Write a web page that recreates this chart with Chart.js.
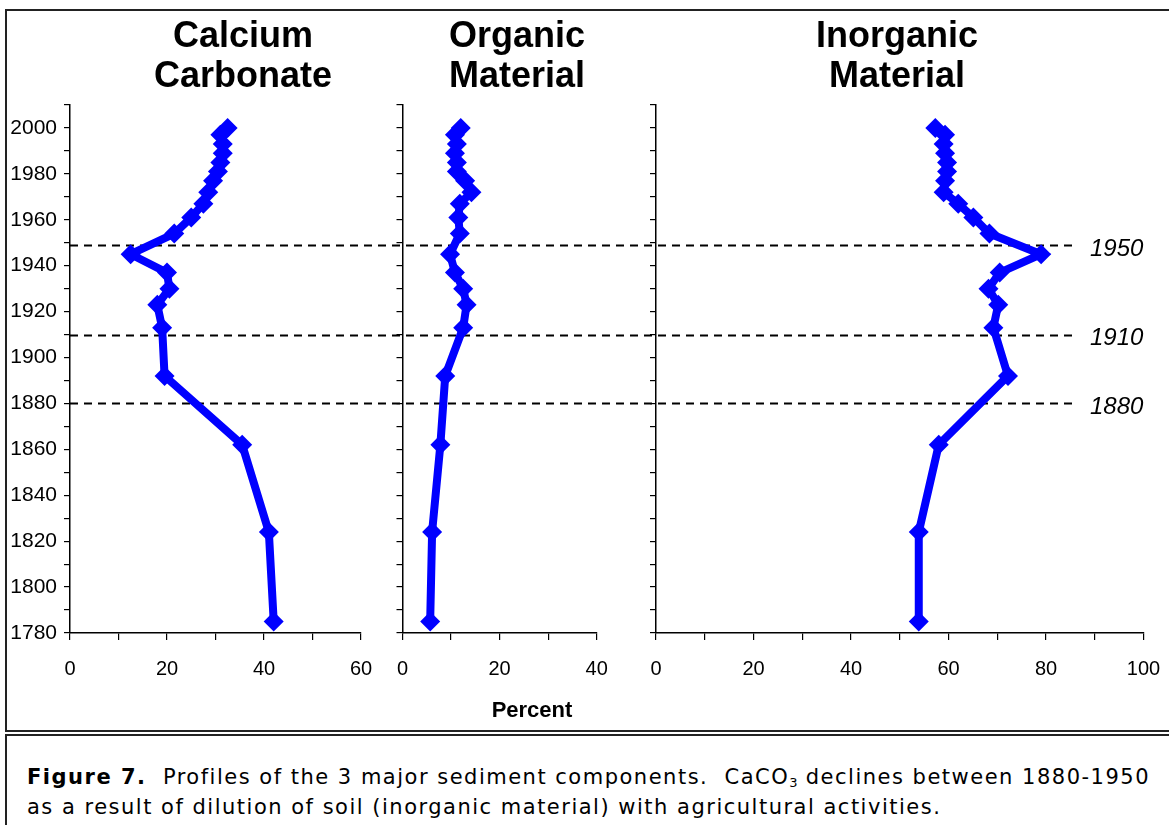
<!DOCTYPE html>
<html>
<head>
<meta charset="utf-8">
<script src="https://cdn.jsdelivr.net/npm/chart.js@4.4.1/dist/chart.umd.min.js"></script>
<style>
  html, body { margin:0; padding:0; background:#fff; }
  #wrap { position:relative; width:1169px; height:825px; overflow:hidden; background:#fff; }
  .frame { position:absolute; left:5px; top:9px; width:1180px; height:723px; border:2px solid #222; box-sizing:border-box; }
  .capbox { position:absolute; left:5px; top:734px; width:1180px; height:120px; border:2px solid #222; box-sizing:border-box; }
  canvas.cv { position:absolute; left:0; top:0; }
  .title { position:absolute; font-family:"Liberation Sans", Arial, sans-serif; font-weight:bold; font-size:36px; line-height:40px; text-align:center; color:#000; transform:translateX(-50%); white-space:nowrap; }
  .xlabel { position:absolute; font-family:"Liberation Sans", Arial, sans-serif; font-weight:bold; font-size:22px; color:#000; transform:translate(-50%,-50%); }
  .caption { position:absolute; left:27px; top:762px; font-family:"DejaVu Sans", sans-serif; font-size:21px; letter-spacing:1.5px; line-height:30px; color:#000; white-space:nowrap; }
  .caption sub { font-size:13px; vertical-align:-3px; line-height:0; letter-spacing:0; }
</style>
</head>
<body>
<div id="wrap">
  <div class="frame"></div>
  <div class="capbox"></div>
  <canvas id="c1" class="cv" width="1169" height="735"></canvas>
  <canvas id="c2" class="cv" width="1169" height="735"></canvas>
  <canvas id="c3" class="cv" width="1169" height="735"></canvas>
  <div class="title" style="left:243px; top:15px;">Calcium<br>Carbonate</div>
  <div class="title" style="left:517px; top:15px;">Organic<br>Material</div>
  <div class="title" style="left:897px; top:15px;">Inorganic<br>Material</div>
  <div class="xlabel" style="left:532px; top:710px;">Percent</div>
  <div class="caption"><b>Figure 7.</b>&nbsp; Profiles of the 3 major sediment components.&nbsp; CaCO<sub>3</sub> declines between 1880-1950<br>as a result of dilution of soil (inorganic material) with agricultural activities.</div>
</div>
<script>
// ---- Data ----
const years     = [2000, 1997, 1993, 1989, 1985, 1981, 1977, 1972, 1967, 1961, 1954, 1945, 1937, 1930, 1923, 1913, 1892, 1862, 1824, 1785];
const calcium   = [32.5, 31, 31.5, 31.5, 31, 30.5, 29.5, 28.5, 27.5, 25, 21.5, 12.5, 20, 20.5, 18, 19, 19.5, 35.5, 41, 42];
const organic   = [12, 10.8, 11.2, 10.8, 11.2, 11.2, 12.9, 14.2, 11.8, 11.5, 11.8, 9.8, 10.8, 12.5, 13.2, 12.5, 8.8, 7.8, 6.1, 5.7];
const inorganic = [57.3, 59.3, 59, 59.3, 59.7, 59.7, 59.3, 59, 62, 65.1, 68.4, 79, 70.5, 68.2, 70.2, 69.2, 72.2, 58, 53.9, 53.9];
const refYears  = [1949, 1910, 1880];
const refLabels = ['1950', '1910', '1880'];
const yMin = 1780, yMax = 2010;

const FONT = '"Liberation Sans", Arial, sans-serif';
const BLUE = '#0000FF';

const refLinesPlugin = {
  id: 'refLines',
  beforeDatasetsDraw(chart, args, opts) {
    if (!opts.draw) return;
    const ctx = chart.ctx, y = chart.scales.y;
    ctx.save();
    ctx.strokeStyle = '#000';
    ctx.lineWidth = 1.8;
    ctx.setLineDash([8, 6]);
    refYears.forEach(yr => {
      const py = Math.round(y.getPixelForValue(yr)) + 0.5;
      ctx.beginPath();
      ctx.moveTo(chart.chartArea.left, py);
      ctx.lineTo(opts.endX, py);
      ctx.stroke();
    });
    ctx.restore();
  }
};
const refLabelPlugin = {
  id: 'refLabels',
  afterDraw(chart, args, opts) {
    if (!opts.draw) return;
    const ctx = chart.ctx, y = chart.scales.y;
    ctx.save();
    ctx.fillStyle = '#000';
    ctx.font = 'italic 24px ' + FONT;
    ctx.textBaseline = 'middle';
    ctx.textAlign = 'left';
    refYears.forEach((yr, i) => {
      ctx.fillText(refLabels[i], opts.x, y.getPixelForValue(yr) + 4);
    });
    ctx.restore();
  }
};

function makeChart(id, values, xMax, areaLeft, areaRight, showY, extra) {
  const yWidth = showY ? 64 : 8;
  const pts = values.map((v, i) => ({ x: v, y: years[i] }));
  return new Chart(document.getElementById(id), {
    type: 'scatter',
    data: { datasets: [{
      data: pts,
      showLine: true,
      borderColor: BLUE,
      backgroundColor: BLUE,
      borderWidth: 8,
      pointStyle: 'rectRot',
      pointRadius: 10,
      pointBorderWidth: 0,
      pointBackgroundColor: BLUE,
      clip: false,
      tension: 0
    }]},
    options: {
      responsive: false,
      animation: false,
      events: [],
      layout: { padding: { left: areaLeft - yWidth, right: 1169 - areaRight, top: 105, bottom: 52 } },
      plugins: {
        legend: { display: false },
        tooltip: { enabled: false },
        refLines: extra.refLines || { draw: false },
        refLabels: extra.refLabels || { draw: false }
      },
      scales: {
        x: {
          type: 'linear', min: 0, max: xMax,
          afterFit: s => { s.height = 50; s.paddingLeft = 0; s.paddingRight = 0; },
          ticks: { stepSize: 10, autoSkip: false, maxRotation: 0, padding: 17, color: '#000',
                   font: { family: FONT, size: 20 },
                   callback: v => (v % 20 === 0 ? String(v) : '') },
          grid: { drawOnChartArea: false, drawTicks: true, tickLength: 7, color: '#000', lineWidth: 1.2 },
          border: { display: true, color: '#000', width: 1.5 }
        },
        y: {
          type: 'linear', min: yMin, max: yMax,
          afterFit: s => { s.width = yWidth; s.paddingTop = 0; s.paddingBottom = 0; },
          ticks: { stepSize: 10, autoSkip: false, padding: 7, color: '#000',
                   font: { family: FONT, size: 21 },
                   callback: v => (showY && v % 20 === 0 && v <= 2000 ? String(v) : '') },
          grid: { drawOnChartArea: false, drawTicks: true, tickLength: 6, color: '#000', lineWidth: 1.2 },
          border: { display: true, color: '#000', width: 1.5 }
        }
      }
    },
    plugins: [refLinesPlugin, refLabelPlugin]
  });
}

makeChart('c1', calcium, 60, 70, 361, true, { refLines: { draw: true, endX: 1075 } });
makeChart('c2', organic, 40, 402.5, 596.7, false, {});
makeChart('c3', inorganic, 100, 656, 1143.5, false, { refLabels: { draw: true, x: 1090 } });
</script>
</body>
</html>
